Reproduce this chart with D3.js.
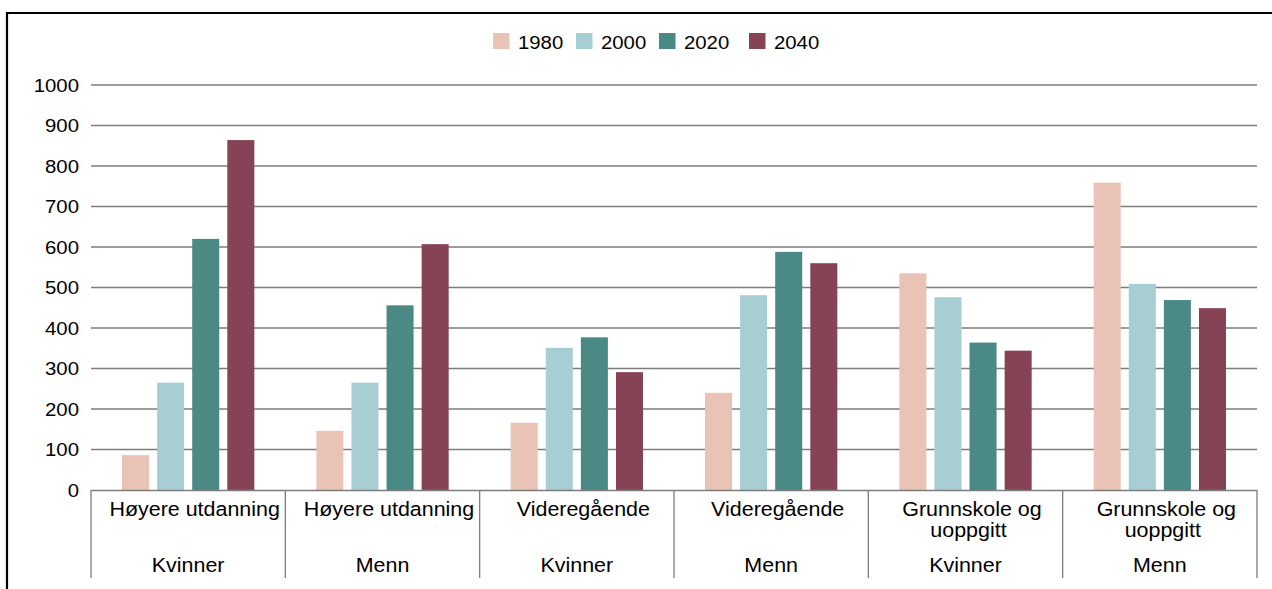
<!DOCTYPE html>
<html>
<head>
<meta charset="utf-8">
<script src="https://cdn.jsdelivr.net/npm/d3@7"></script>
<style>
  html, body { margin: 0; padding: 0; background: #fff; }
  svg { display: block; }
  text { font-family: "Liberation Sans", Arial, sans-serif; fill: #000; }
</style>
</head>
<body>
<svg id="chart" width="1272" height="589"></svg>
<script>
// ---- Data ----
const categories = [
  ["Høyere utdanning"], ["Høyere utdanning"], ["Videregående"], ["Videregående"],
  ["Grunnskole og", "uoppgitt"], ["Grunnskole og", "uoppgitt"]
];
const genders = ["Kvinner", "Menn", "Kvinner", "Menn", "Kvinner", "Menn"];
const seriesNames = ["1980", "2000", "2020", "2040"];
const values1980 = [86, 146, 166, 240, 535, 759];
const values2000 = [265, 265, 351, 481, 476, 509];
const values2020 = [620, 456, 377, 588, 364, 469];
const values2040 = [864, 607, 291, 560, 344, 449];
const yTicks = [0, 100, 200, 300, 400, 500, 600, 700, 800, 900, 1000];
const colors = ["#E9C3B5", "#A7CED3", "#4B8984", "#874356"];

(function () {
const seriesValues = [values1980, values2000, values2020, values2040];
const rows = categories.map((c, i) => ({
  id: i, lines: c, gender: genders[i],
  vals: seriesNames.map((s, j) => ({ key: s, value: seriesValues[j][i] }))
}));

// ---- Layout ----
const svg = d3.select("#chart");
const FS = 18.5, CFS = 19.5, SX = 1.1;
const pLeft = 91, pRight = 1257, pTop = 85, pBottom = 490, labelBottom = 578;

const x0 = d3.scaleBand().domain(rows.map(r => r.id)).range([pLeft, pRight]).padding(0);
const x1 = d3.scaleBand().domain(seriesNames)
  .range([31, x0.bandwidth() - 31]).paddingInner(0.23).paddingOuter(0);
const y = d3.scaleLinear().domain([0, 1000]).range([pBottom, pTop]);
const color = d3.scaleOrdinal().domain(seriesNames).range(colors);

// frame
svg.append("line").attr("x1", 7).attr("x2", 7).attr("y1", 12).attr("y2", 589)
  .attr("stroke", "#000").attr("stroke-width", 2.2);
svg.append("line").attr("x1", 6).attr("x2", 1272).attr("y1", 13).attr("y2", 13)
  .attr("stroke", "#000").attr("stroke-width", 2.2);

// gridlines
svg.append("g").selectAll("line").data(yTicks.filter(t => t > 0)).join("line")
  .attr("x1", pLeft).attr("x2", pRight)
  .attr("y1", d => y(d)).attr("y2", d => y(d))
  .attr("stroke", "#7d7d7d").attr("stroke-width", 1.3);

// y labels
svg.append("g").selectAll("text").data(yTicks).join("text")
  .attr("text-anchor", "end")
  .attr("transform", d => `translate(79,${y(d) + 6.5}) scale(${SX},1)`)
  .style("font-size", FS + "px")
  .text(d => d);

// bars
const g = svg.append("g").selectAll("g").data(rows).join("g")
  .attr("transform", d => `translate(${x0(d.id)},0)`);
g.selectAll("rect").data(d => d.vals).join("rect")
  .attr("x", d => x1(d.key))
  .attr("width", x1.bandwidth())
  .attr("y", d => y(d.value))
  .attr("height", d => y(0) - y(d.value))
  .attr("fill", d => color(d.key));

// baseline axis
svg.append("line").attr("x1", pLeft).attr("x2", pRight)
  .attr("y1", pBottom + 0.5).attr("y2", pBottom + 0.5)
  .attr("stroke", "#7d7d7d").attr("stroke-width", 1.3);

// category dividers
const dividers = rows.map(r => x0(r.id)).concat([pRight]);
svg.append("g").selectAll("line").data(dividers).join("line")
  .attr("x1", d => d).attr("x2", d => d)
  .attr("y1", pBottom).attr("y2", labelBottom)
  .attr("stroke", "#7d7d7d").attr("stroke-width", 1.3);

// category labels
const lineShift = [6.5, 3];
const lab = svg.append("g").selectAll("g").data(rows).join("g")
  .attr("transform", d => `translate(${x0(d.id) + x0.bandwidth() / 2},0)`);
lab.each(function(d) {
  const el = d3.select(this);
  d.lines.forEach((ln, k) => {
    el.append("text").attr("text-anchor", "middle")
      .attr("transform", `translate(${lineShift[k]},${516 + k * 21}) scale(${SX},1)`)
      .style("font-size", CFS + "px").text(ln);
  });
  el.append("text").attr("text-anchor", "middle")
    .attr("transform", `translate(0,572) scale(${SX},1)`)
    .style("font-size", CFS + "px").text(d.gender);
});

// legend
const legendX = [493, 576, 659, 749];
const leg = svg.append("g").selectAll("g").data(seriesNames).join("g")
  .attr("transform", (d, i) => `translate(${legendX[i]},0)`);
leg.append("rect").attr("x", 0).attr("y", 33).attr("width", 16.5).attr("height", 16)
  .attr("fill", d => color(d));
leg.append("text")
  .attr("transform", `translate(25,49) scale(${SX},1)`)
  .style("font-size", FS + "px").text(d => d);
})();
</script>
</body>
</html>
